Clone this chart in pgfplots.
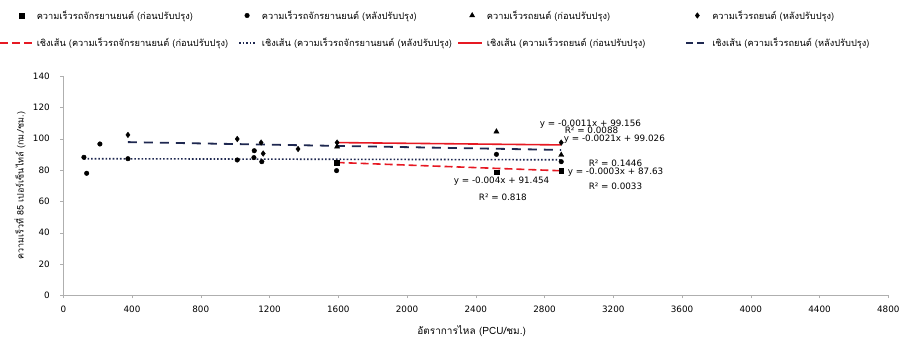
\documentclass[border=0pt]{standalone}
\usepackage{fontspec}
\setmainfont{DejaVu Sans}
\newfontfamily\thai[Script=Thai]{Loma}
\usepackage{pgfplots}
\pgfplotsset{compat=1.18}
\definecolor{tred}{RGB}{230,25,35}
\definecolor{tnavy}{RGB}{30,40,80}
\definecolor{axgray}{RGB}{175,175,175}
\pgfplotsset{
  markimg/.style={legend image code/.code={\path (0pt,0pt) (34pt,0pt); \draw[##1] plot coordinates {(22pt,0pt)};}},
  lineimg/.style n args={3}{legend image code/.code={\path (0pt,0pt) (34pt,0pt); \draw[#3] (#1,0pt) -- (#2,0pt);}},
}
\newcommand{\lgtxt}[1]{\makebox[185.5pt][l]{#1}}
\begin{document}
\begin{tikzpicture}[font=\fontsize{8.8}{10}\selectfont]
\begin{axis}[
  scale only axis, width=825pt, height=219.3pt,
  xmin=0, xmax=4800, ymin=0, ymax=140,
  xtick={0,400,...,4800}, ytick={0,20,...,140},
  axis lines=left, axis line style={-,draw=axgray},
  tick style={draw=axgray}, tick align=outside, major tick length=3pt,
  /pgf/number format/assume math mode=true,
  /pgf/number format/1000 sep={},
  xticklabel style={yshift=-4pt},
  yticklabel style={xshift=-7pt},
  xlabel={\thai\fontsize{10}{11}\selectfont อัตราการไหล (PCU/ชม.)},
  xlabel style={at={(axis description cs:0.495,-0.163)}, anchor=center},
  ylabel={\thai\fontsize{9}{10}\selectfont ความเร็วที่ 85 เปอร์เซ็นไทล์ (กม./ชม.)},
  ylabel style={at={(axis description cs:-0.0525,0.5)}, anchor=center, rotate=0},
  legend columns=4,
  legend cell align=left,
  legend style={at={(axis description cs:-0.0816,1.318)}, anchor=north west,
    draw=none, fill=none, row sep=13.6pt,
    font=\thai\fontsize{9.25}{10}\selectfont,
    /tikz/every even column/.append style={column sep=0pt}},
]
% data points
\addplot[only marks, mark=square*, mark size=2.3pt, black, markimg]
  coordinates {(1590,84.7) (2520,78.5) (2897,79.6)};
\addlegendentry{\lgtxt{ความเร็วรถจักรยานยนต์ (ก่อนปรับปรุง)}}
\addplot[only marks, mark=*, mark size=2.3pt, black, markimg]
  coordinates {(120,88.1) (136,77.9) (213,96.6) (376,87.2) (1012,86.4) (1111,92.3)
  (1109,87.9) (1155,85.3) (1590,79.6) (2520,90.0) (2897,85.3)};
\addlegendentry{\lgtxt{ความเร็วรถจักรยานยนต์ (หลังปรับปรุง)}}
\addplot[only marks, mark=triangle*, mark size=3pt, black, markimg]
  coordinates {(1593,94.9) (2520,104.5) (2897,89.6)};
\addlegendentry{\lgtxt{ความเร็วรถยนต์ (ก่อนปรับปรุง)}}
\addplot[only marks, mark=diamond*, mark size=2.8pt, black, markimg]
  coordinates {(376,102.4) (1012,99.8) (1151,97.5) (1163,90.5) (1366,93.4) (1593,97.5) (2897,97.5)};
\addlegendentry{\lgtxt{ความเร็วรถยนต์ (หลังปรับปรุง)}}
% trend lines
\addplot[tred, line width=1.6pt, dash pattern=on 8pt off 4pt, no marks,
  lineimg={0pt}{33pt}{tred, line width=1.6pt, dash pattern=on 8pt off 4pt}]
  coordinates {(1590,84.8) (2897,79.5)};
\addlegendentry{\lgtxt{เชิงเส้น (ความเร็วรถจักรยานยนต์ (ก่อนปรับปรุง)}}
\addplot[tnavy, line width=1.6pt, dash pattern=on 1.6pt off 2pt, no marks,
  lineimg={14pt}{31pt}{tnavy, line width=1.6pt, dash pattern=on 1.6pt off 2pt}]
  coordinates {(120,87.2) (2897,86.5)};
\addlegendentry{\lgtxt{เชิงเส้น (ความเร็วรถจักรยานยนต์ (หลังปรับปรุง)}}
\addplot[tred, line width=1.6pt, no marks,
  lineimg={8pt}{32pt}{tred, line width=1.6pt}]
  coordinates {(1593,97.5) (2897,96.0)};
\addlegendentry{\lgtxt{เชิงเส้น (ความเร็วรถยนต์ (ก่อนปรับปรุง)}}
\addplot[tnavy, line width=1.8pt, dash pattern=on 9pt off 7pt, no marks,
  lineimg={11pt}{29pt}{tnavy, line width=1.8pt, dash pattern=on 7pt off 4pt}]
  coordinates {(376,97.8) (2897,92.8)};
\addlegendentry{\lgtxt{เชิงเส้น (ความเร็วรถยนต์ (หลังปรับปรุง)}}
% equation labels
\node[anchor=west, inner sep=0pt] at (axis cs:2772,109.4) {y = -0.0011x + 99.156};
\node[anchor=west, inner sep=0pt] at (axis cs:2917,105.1) {R² = 0.0088};
\node[anchor=west, inner sep=0pt] at (axis cs:2911,99.6) {y = -0.0021x + 99.026};
\node[anchor=west, inner sep=0pt] at (axis cs:3056,84.3) {R² = 0.1446};
\node[anchor=west, inner sep=0pt] at (axis cs:2934,78.7) {y = -0.0003x + 87.63};
\node[anchor=west, inner sep=0pt] at (axis cs:3056,69.3) {R² = 0.0033};
\node[anchor=west, inner sep=0pt] at (axis cs:2271,73.0) {y = -0.004x + 91.454};
\node[anchor=west, inner sep=0pt] at (axis cs:2417,62.8) {R² = 0.818};
\end{axis}
\pgfresetboundingbox
\useasboundingbox (-63.3pt,-42.7pt) rectangle (838.7pt,295.3pt);
\end{tikzpicture}
\end{document}
